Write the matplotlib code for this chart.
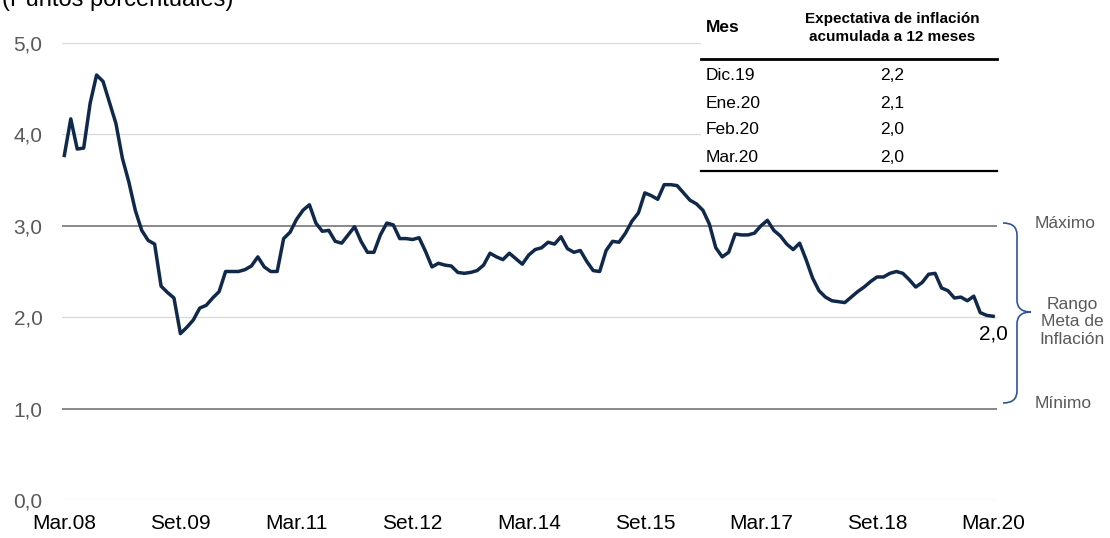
import numpy as np
import matplotlib
matplotlib.use('Agg')
import matplotlib.pyplot as plt
from matplotlib.patches import Rectangle, PathPatch
from matplotlib.path import Path
from matplotlib.lines import Line2D

plt.rcParams['font.family'] = ['Liberation Sans', 'DejaVu Sans']

# Expectativa de inflacion a 12 meses, mensual Mar.08 - Mar.20
expectativa = [
    3.77, 4.17, 3.84, 3.85, 4.34, 4.65, 4.58, 4.35, 4.12, 3.74,              # 2008 (mar-dic)
    3.48, 3.17, 2.95, 2.84, 2.80, 2.34, 2.27, 2.21, 1.82, 1.89, 1.97, 2.10,  # 2009
    2.13, 2.21, 2.28, 2.50, 2.50, 2.50, 2.52, 2.56, 2.66, 2.55, 2.50, 2.50,  # 2010
    2.86, 2.93, 3.07, 3.17, 3.23, 3.03, 2.94, 2.95, 2.83, 2.81, 2.90, 2.99,  # 2011
    2.83, 2.71, 2.71, 2.90, 3.03, 3.01, 2.86, 2.86, 2.85, 2.87, 2.72, 2.55,  # 2012
    2.59, 2.57, 2.56, 2.49, 2.48, 2.49, 2.51, 2.57, 2.70, 2.66, 2.63, 2.70,  # 2013
    2.64, 2.58, 2.68, 2.74, 2.76, 2.82, 2.80, 2.88, 2.75, 2.71, 2.73, 2.61,  # 2014
    2.51, 2.50, 2.73, 2.83, 2.82, 2.92, 3.05, 3.14, 3.36, 3.33, 3.29, 3.45,  # 2015
    3.45, 3.44, 3.36, 3.28, 3.24, 3.17, 3.02, 2.76, 2.66, 2.71, 2.91, 2.90,  # 2016
    2.90, 2.92, 3.00, 3.06, 2.95, 2.89, 2.80, 2.74, 2.81, 2.63, 2.43, 2.29,  # 2017
    2.22, 2.18, 2.17, 2.16, 2.22, 2.28, 2.33, 2.39, 2.44, 2.44, 2.48, 2.50,  # 2018
    2.48, 2.41, 2.33, 2.38, 2.47, 2.48, 2.32, 2.29, 2.21, 2.22, 2.18, 2.23,  # 2019
    2.05, 2.02, 2.01,                                                        # 2020 (ene-mar)
]
x_labels = ['Mar.08', 'Set.09', 'Mar.11', 'Set.12', 'Mar.14',
            'Set.15', 'Mar.17', 'Set.18', 'Mar.20']
y_ticks = [0, 1, 2, 3, 4, 5]
rango_meta = [1.0, 3.0]
ultimo_label = '2,0'

tabla_meses = ['Dic.19', 'Ene.20', 'Feb.20', 'Mar.20']
tabla_valores = ['2,2', '2,1', '2,0', '2,0']

W, H = 1110, 538
NAVY = '#10294a'
GREY_TXT = '#595959'


def fx(px):
    return px / W


def fy(py):
    return 1 - py / H


def draw_table(fig):
    # white box hides the gridlines behind the table
    fig.add_artist(Rectangle((fx(701), fy(173)), fx(997) - fx(701), fy(0) - fy(173),
                             transform=fig.transFigure, facecolor='white',
                             edgecolor='none', zorder=1))
    fig.text(fx(706), fy(28), 'Mes', fontsize=12.5, fontweight='bold',
             ha='left', va='center', zorder=3)
    fig.text(fx(892), fy(28), 'Expectativa de inflación\nacumulada a 12 meses',
             fontsize=11, fontweight='bold', ha='center', va='center',
             multialignment='center', linespacing=1.35, zorder=3)
    fig.add_artist(Line2D([fx(701), fx(997)], [fy(59.5), fy(59.5)], color='black',
                          lw=2.0, transform=fig.transFigure, zorder=3))
    for k, (mes, val) in enumerate(zip(tabla_meses, tabla_valores)):
        y = 76 + 27 * k
        fig.text(fx(706), fy(y), mes, fontsize=12.5, ha='left', va='center', zorder=3)
        fig.text(fx(892), fy(y), val, fontsize=12.5, ha='center', va='center', zorder=3)
    fig.add_artist(Line2D([fx(701), fx(997)], [fy(171), fy(171)], color='black',
                          lw=1.6, transform=fig.transFigure, zorder=3))


def draw_bracket(fig):
    x0, xv, xt = 1003, 1017, 1031
    top, mid, bot = 223, 312, 403
    # two halves of a curly brace, both meeting at the tip
    pts = [(x0, top), (xv, top), (xv, top + 12), (xv, mid - 12), (xv, mid), (xt, mid),
           (xt, mid), (xv, mid), (xv, mid + 12), (xv, bot - 12), (xv, bot), (x0, bot)]
    codes = [Path.MOVETO, Path.CURVE3, Path.CURVE3, Path.LINETO, Path.CURVE3, Path.CURVE3,
             Path.MOVETO, Path.CURVE3, Path.CURVE3, Path.LINETO, Path.CURVE3, Path.CURVE3]
    verts = [(fx(a), fy(b)) for a, b in pts]
    fig.add_artist(PathPatch(Path(verts, codes), transform=fig.transFigure,
                             fill=False, edgecolor='#2f5597', lw=1.2, zorder=3))
    fig.text(fx(1035), fy(223), 'Máximo', fontsize=12.5, color=GREY_TXT,
             ha='left', va='center')
    fig.text(fx(1035), fy(403), 'Mínimo', fontsize=12.5, color=GREY_TXT,
             ha='left', va='center')
    fig.text(fx(1072), fy(322), 'Rango\nMeta de\nInflación', fontsize=12.5,
             color=GREY_TXT, ha='center', va='center', multialignment='center',
             linespacing=1.2)


def main():
    fig = plt.figure(figsize=(W / 100, H / 100), dpi=100)
    ax = fig.add_axes([fx(62), 1 - 500 / H, fx(997) - fx(62), 457 / H])

    x = np.arange(len(expectativa))
    for y in y_ticks:
        if y in rango_meta:
            ax.axhline(y, color='#808080', lw=1.3, zorder=1)
        else:
            ax.axhline(y, color='#d9d9d9', lw=0.9, zorder=1)

    ax.plot(x, expectativa, color=NAVY, lw=2.5, zorder=2)
    ax.annotate(ultimo_label, xy=(x[-1], expectativa[-1]), xytext=(0, -12.5),
                textcoords='offset points', ha='center', va='center', fontsize=15)

    ax.set_ylim(0, 5)
    ax.set_xlim(-0.36, len(expectativa) - 1 + 0.6)
    ax.set_yticks(y_ticks)
    ax.set_yticklabels([f'{v:.1f}'.replace('.', ',') for v in y_ticks])
    ax.set_xticks(np.arange(0, len(expectativa), 18))
    ax.set_xticklabels(x_labels)
    ax.tick_params(axis='y', length=0, pad=14, labelsize=15, labelcolor=GREY_TXT)
    ax.tick_params(axis='x', length=0, pad=10, labelsize=15, labelcolor='black')
    for s in ax.spines.values():
        s.set_visible(False)

    fig.text(fx(2), fy(6), '(Puntos porcentuales)', fontsize=17, ha='left',
             va='baseline')

    draw_table(fig)
    draw_bracket(fig)

    fig.savefig('out.png', dpi=100)


if __name__ == '__main__':
    main()
